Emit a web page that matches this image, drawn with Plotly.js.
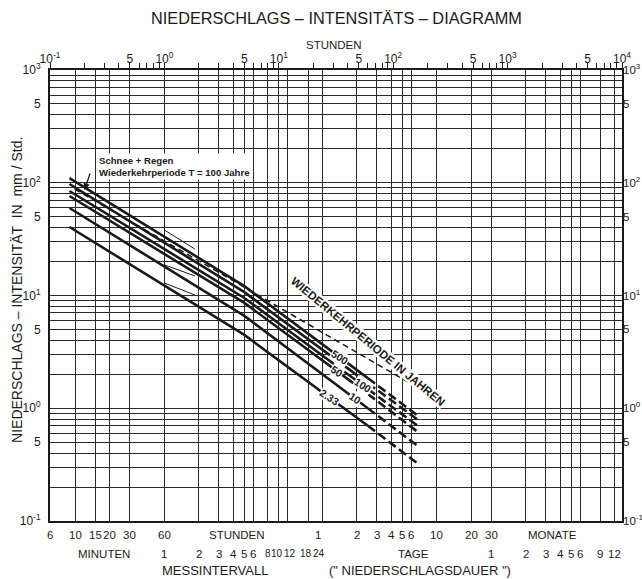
<!DOCTYPE html>
<html><head><meta charset="utf-8">
<script src="https://cdn.plot.ly/plotly-3.0.1.min.js"></script>
<style>body{margin:0;background:#fff}</style>
</head><body><div id="c" style="width:642px;height:579px"></div>
<script>
// ---- data (durations in hours, intensities in mm/h) ----
const solidDur = [0.148, 5, 60];
const dashDur = [60, 170];
const lineLabels = ['500', '', '100', '50', '10', '2.33'];
const solidI = [
  [110, 12.1, 1.85],
  [97.5, 10.7, 1.67],
  [84.5, 9.5, 1.48],
  [76.3, 8.6, 1.34],
  [59.7, 6.6, 1.0],
  [40.5, 4.47, 0.70]
];
const dashI = [
  [1.85, 0.836],
  [1.67, 0.77],
  [1.48, 0.68],
  [1.34, 0.60],
  [1.0, 0.45],
  [0.70, 0.314]
];
const labelDur = [34, null, 54, 32, 46, 27.7];
const snowDur = [0.164, 160];
const snowI = [88, 1.545];
// thin auxiliary segments between 1 h and 2 h
const thinDur = [1, 1.85];
const thinI = [[38.1, 25.8], [18.7, 14.9], [12.9, 10.1]];

// vertical grid (bottom scale) in hours
const gridHours = [0.1, 1/6, 0.25, 1/3, 0.5, 1, 2, 3, 4, 5, 6, 8, 10, 12, 18, 24,
  48, 72, 96, 120, 144, 240, 480, 720, 1440, 2160, 2880, 3600, 4320, 6480, 8640];
const minuteLabels = ['6', '10', '15', '20', '30', '60'];
const minuteMin = [6, 10, 15, 20, 30, 60];
const hourLabels = ['1', '2', '3', '4', '5', '6', '8', '10', '12', '18', '24'];
const hourVals = [1, 2, 3, 4, 5, 6, 8, 10, 12, 18, 24];
const dayLabels = ['1', '2', '3', '4', '5', '6', '10', '20', '30'];
const dayVals = [1, 2, 3, 4, 5, 6, 10, 20, 30];
const monthLabels = ['1', '2', '3', '4', '5', '6', '9', '12'];
const monthVals = [1, 2, 3, 4, 5, 6, 9, 12];

// log tick helpers: labelled ticks at 1 and 5, minor at the rest
function logTicks(lo, hi) {
  const v = [], t = [], minor = [];
  for (let e = lo; e <= hi; e++) {
    for (let m = 1; m <= 9; m++) {
      if (e === hi && m > 1) break;
      const val = m * Math.pow(10, e);
      if (m === 1) { v.push(val); t.push('10<sup>' + e + '</sup>'); }
      else if (m === 5) { v.push(val); t.push('5'); }
      else minor.push(val);
    }
  }
  return {v, t, minor};
}
const xt = logTicks(-1, 4);
const yt = logTicks(-1, 3);

const FONT = 'Liberation Sans, Arial, sans-serif';
const INK = '#1a1a1a';
const traces = [];
solidI.forEach((arr, i) => {
  traces.push({x: solidDur, y: arr, mode: 'lines', line: {color: INK, width: 2.6},
    hoverinfo: 'skip', showlegend: false});
  traces.push({x: dashDur, y: dashI[i], mode: 'lines', line: {color: INK, width: 2.6, dash: '9px,4px'},
    hoverinfo: 'skip', showlegend: false});
});
thinI.forEach(arr => traces.push({x: thinDur, y: arr, mode: 'lines', line: {color: INK, width: 1},
  hoverinfo: 'skip', showlegend: false}));
traces.push({x: snowDur, y: snowI, mode: 'lines', line: {color: INK, width: 1.5, dash: '6px,4px'},
  hoverinfo: 'skip', showlegend: false});
traces.push({x: [1], y: [1], xaxis: 'x2', yaxis: 'y2', mode: 'markers', marker: {opacity: 0},
  hoverinfo: 'skip', showlegend: false});

function interpLog(xs, ys, x) {
  const lx = Math.log10(x);
  for (let k = 0; k < xs.length - 1; k++) {
    const a = Math.log10(xs[k]), b = Math.log10(xs[k + 1]);
    if (lx >= a && lx <= b) {
      const f = (lx - a) / (b - a);
      return Math.log10(ys[k]) + f * (Math.log10(ys[k + 1]) - Math.log10(ys[k]));
    }
  }
  return Math.log10(ys[ys.length - 1]);
}

const ann = [];
const lab = (x, y, text, size, shift) => ann.push({xref: 'x', yref: 'paper', x: x, y: y,
  xanchor: 'center', yanchor: 'middle', text: text, showarrow: false, xshift: shift || 0,
  font: {family: FONT, size: size || 11.5, color: INK}});
const row1 = -0.031, row2 = -0.073;
const hourShift = {'10': -2, '12': 2, '18': -2, '24': -3};
minuteMin.forEach((m, i) => lab(Math.log10(m / 60), row1, minuteLabels[i], 11.5));
dayVals.forEach((d, i) => lab(Math.log10(d * 24), row1, dayLabels[i], 11.5, i === 0 ? -4 : 0));
hourVals.forEach((h, i) => lab(Math.log10(h), row2, hourLabels[i], h >= 8 ? 10 : 11.5, hourShift[hourLabels[i]]));
monthVals.forEach((m, i) => lab(Math.log10(m * 720), row2, monthLabels[i], 11.5));
lab(Math.log10(4.27), row1, 'STUNDEN');
lab(Math.log10(2470), row1, 'MONATE');
lab(Math.log10(0.294), row2, 'MINUTEN');
lab(Math.log10(150), row2, 'TAGE');

// line labels
lineLabels.forEach((t, i) => {
  if (!t) return;
  const d = labelDur[i];
  ann.push({xref: 'x', yref: 'y', x: Math.log10(d), y: interpLog(solidDur, solidI[i], d), text: t,
    xanchor: 'center', yanchor: 'middle', textangle: 33, showarrow: false, bgcolor: '#fff', borderpad: 0,
    font: {family: FONT, size: 10.5, color: INK, weight: 'bold'}});
});
ann.push({xref: 'x', yref: 'y', x: 1.784, y: 0.588, text: 'WIEDERKEHRPERIODE IN JAHREN',
  xanchor: 'center', yanchor: 'middle', textangle: 39.5, showarrow: false, bgcolor: '#fff', borderpad: 0,
  font: {family: FONT, size: 11.5, color: INK, weight: 'bold'}});
ann.push({xref: 'x', yref: 'y', x: -0.698, y: 1.936, ax: 8, ay: -24, text: ' ', showarrow: true,
  arrowhead: 2, arrowsize: 1, arrowwidth: 1.3, arrowcolor: INK});
ann.push({xref: 'x', yref: 'y', x: Math.log10(0.255), y: Math.log10(139), xanchor: 'left', yanchor: 'middle',
  align: 'left', text: 'Schnee + Regen<br>Wiederkehrperiode T = 100 Jahre', showarrow: false,
  bgcolor: '#fff', font: {family: FONT, size: 9.6, color: INK, weight: 'bold'}});
// titles
const ptxt = (x, y, text, size, extra) => ann.push(Object.assign({xref: 'paper', yref: 'paper', x: x, y: y,
  xanchor: 'center', yanchor: 'middle', text: text, showarrow: false,
  font: {family: FONT, size: size, color: INK}}, extra || {}));
ptxt(0.5, 1.115, 'NIEDERSCHLAGS – INTENSITÄTS – DIAGRAMM', 16.3);
ptxt(0.497, 1.055, 'STUNDEN', 11.5);
ptxt(-0.058, 0.512, 'NIEDERSCHLAGS – INTENSITÄT  IN  mm / Std.', 14, {textangle: -90});
ptxt(0.288, -0.109, 'MESSINTERVALL', 13);
ptxt(0.647, -0.109, '(" NIEDERSCHLAGSDAUER ")', 13);

const gridC = '#2a2a2a';
const layout = {
  width: 642, height: 579,
  margin: {l: 50, r: 20, t: 70, b: 58},
  paper_bgcolor: '#fff', plot_bgcolor: '#fff',
  font: {family: FONT, size: 11, color: INK},
  showlegend: false,
  xaxis: {type: 'log', range: [-1, 4], tickvals: gridHours, showticklabels: false, ticks: '',
    showgrid: true, gridcolor: gridC, gridwidth: 1, showline: true, mirror: true, linecolor: INK,
    linewidth: 2, zeroline: false},
  xaxis2: {type: 'log', range: [-1, 4], overlaying: 'x', side: 'top', tickvals: xt.v, ticktext: xt.t,
    ticks: 'outside', ticklen: 6, tickcolor: INK, tickwidth: 1, showgrid: false, showline: false,
    zeroline: false, ticklabelstandoff: -5, tickfont: {family: FONT, size: 12, color: INK},
    minor: {tickmode: 'array', tickvals: xt.minor, ticks: 'outside', ticklen: 6, tickcolor: INK,
      tickwidth: 1, showgrid: false}},
  yaxis: {type: 'log', range: [-1, 3], tickvals: yt.v, ticktext: yt.t, ticks: '', showgrid: true,
    gridcolor: gridC, gridwidth: 1, showline: true, mirror: true, linecolor: INK, linewidth: 2,
    zeroline: false, ticklabelstandoff: 5, tickfont: {family: FONT, size: 12, color: INK},
    minor: {tickmode: 'array', tickvals: yt.minor, ticks: '', showgrid: true, gridcolor: gridC, gridwidth: 1}},
  yaxis2: {type: 'log', range: [-1, 3], overlaying: 'y', side: 'right', tickvals: yt.v, ticktext: yt.t,
    ticks: '', showgrid: false, showline: false, zeroline: false, ticklabelstandoff: 0,
    tickfont: {family: FONT, size: 11.5, color: INK}},
  annotations: ann
};
Plotly.newPlot('c', traces, layout, {staticPlot: true});
</script></body></html>
